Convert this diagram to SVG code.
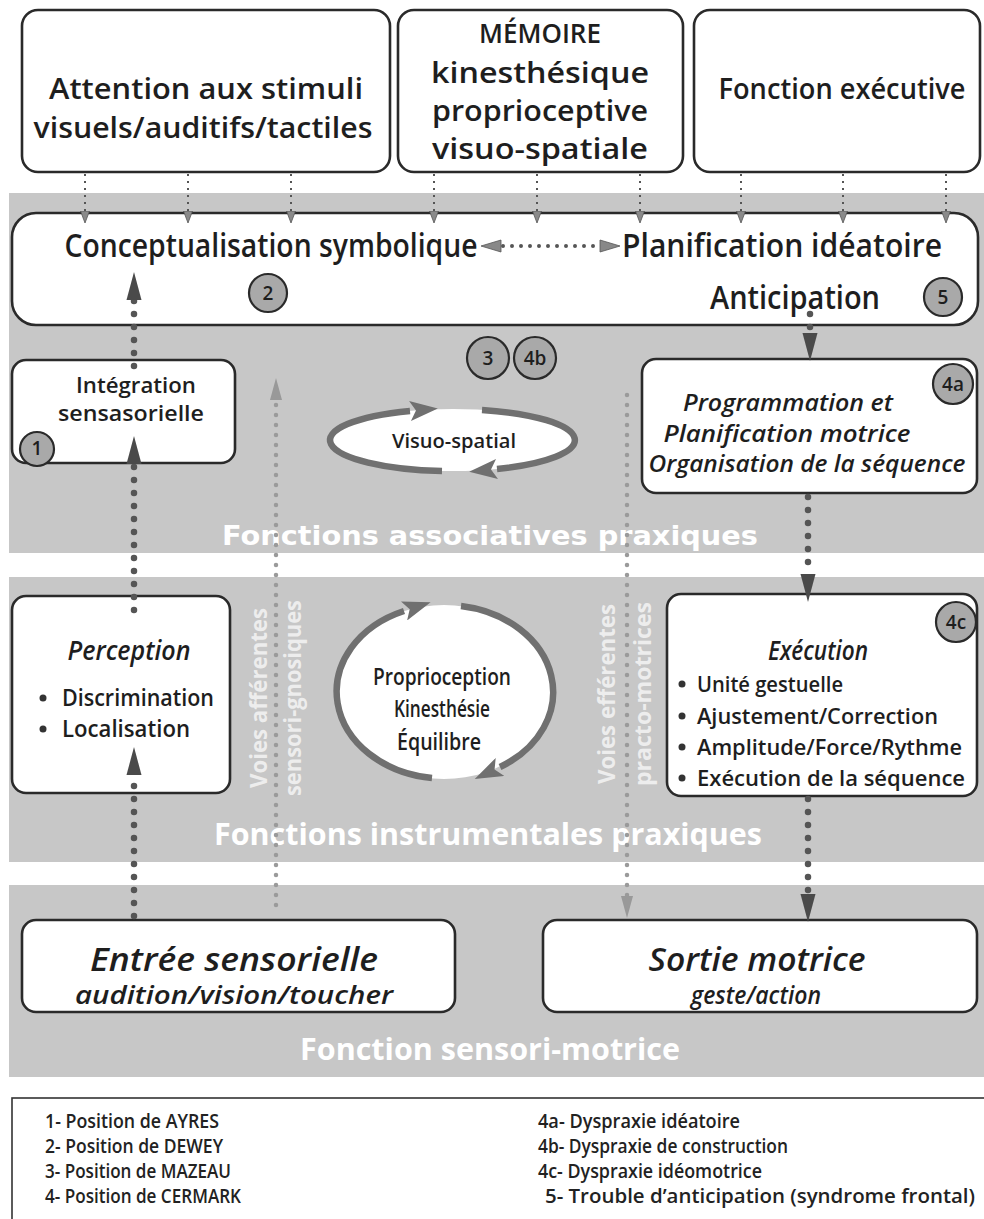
<svg xmlns="http://www.w3.org/2000/svg" width="984" height="1219" viewBox="0 0 984 1219">
<style>
.t{font-family:"Open Sans","Liberation Sans",sans-serif;font-weight:600;fill:#1e1e1e;}
.i{font-style:italic;}
.box{fill:#fff;stroke:#2a2a2a;stroke-width:2.6;}
.band{fill:#c7c7c7;}
.bl{font-family:"Open Sans","Liberation Sans",sans-serif;font-weight:700;fill:#fff;}
.bw{font-family:"DejaVu Sans","Verdana",sans-serif;font-weight:700;fill:#fff;}
.vt{font-family:"Open Sans","Liberation Sans",sans-serif;font-weight:700;fill:#fff;fill-opacity:0.7;font-size:24px;}
.num{fill:#a9a9a9;stroke:#2a2a2a;stroke-width:2.2;}
.nt{font-family:"Open Sans","Liberation Sans",sans-serif;font-weight:600;fill:#1e1e1e;font-size:19px;text-anchor:middle;}
.dk{fill:none;stroke:#555;stroke-width:6.5;stroke-linecap:round;stroke-dasharray:0 13;}
.lg{fill:none;stroke:#9a9a9a;stroke-width:4.5;stroke-linecap:round;stroke-dasharray:0 10;}
.sm{fill:none;stroke:#555;stroke-width:2;stroke-dasharray:2 5;}
.loop{fill:none;stroke:#707070;stroke-width:6.5;}
.leg{font-family:"Open Sans","Liberation Sans",sans-serif;font-weight:600;fill:#222;font-size:19px;}
</style>
<defs>
<marker id="ad" viewBox="0 -8 28 16" refX="0" refY="0" markerWidth="28" markerHeight="16" markerUnits="userSpaceOnUse" orient="auto"><path d="M0,-7.5 L28,0 L0,7.5 z" fill="#4a4a4a"/></marker>
<marker id="ag" viewBox="0 -7 24 14" refX="0" refY="0" markerWidth="24" markerHeight="14" markerUnits="userSpaceOnUse" orient="auto"><path d="M0,-6 L22,0 L0,6 z" fill="#999"/></marker>
<marker id="as" viewBox="0 -5 13 10" refX="0" refY="0" markerWidth="13" markerHeight="10" markerUnits="userSpaceOnUse" orient="auto"><path d="M0,-4.5 L12,0 L0,4.5 z" fill="#8a8a8a" stroke="#555" stroke-width="0.8"/></marker>
<marker id="al" viewBox="0 -10 28 20" refX="0" refY="0" markerWidth="28" markerHeight="20" markerUnits="userSpaceOnUse" orient="auto"><path d="M0,-10 L28,0 L0,10 L6,0 z" fill="#707070"/></marker>
</defs>
<rect width="984" height="1219" fill="#fff"/>
<g id="bands">
<rect class="band" x="9" y="193" width="975" height="360"/>
<rect class="band" x="9" y="577" width="975" height="285"/>
<rect class="band" x="9" y="885" width="975" height="192"/>
<text class="bw" x="490" y="545" font-size="26" text-anchor="middle" textLength="536" lengthAdjust="spacingAndGlyphs">Fonctions associatives praxiques</text>
<text class="bl" x="488" y="845" font-size="31" text-anchor="middle" textLength="548" lengthAdjust="spacingAndGlyphs">Fonctions instrumentales praxiques</text>
<text class="bl" x="490" y="1060" font-size="30" text-anchor="middle" textLength="380" lengthAdjust="spacingAndGlyphs">Fonction sensori-motrice</text>
<text class="vt" transform="translate(267,698) rotate(-90)" text-anchor="middle" textLength="180" lengthAdjust="spacingAndGlyphs">Voies afférentes</text>
<text class="vt" transform="translate(301,698) rotate(-90)" text-anchor="middle" textLength="196" lengthAdjust="spacingAndGlyphs">sensori-gnosiques</text>
<text class="vt" transform="translate(615,694) rotate(-90)" text-anchor="middle" textLength="180" lengthAdjust="spacingAndGlyphs">Voies efférentes</text>
<text class="vt" transform="translate(651,694) rotate(-90)" text-anchor="middle" textLength="184" lengthAdjust="spacingAndGlyphs">practo-motrices</text>
</g>
<g id="n-attention">
<rect class="box" x="22" y="10" width="368" height="162" rx="16"/>
<text class="t" x="206" y="99" font-size="29" text-anchor="middle" textLength="314" lengthAdjust="spacingAndGlyphs">Attention aux stimuli</text>
<text class="t" x="203" y="138" font-size="29" text-anchor="middle" textLength="339" lengthAdjust="spacingAndGlyphs">visuels/auditifs/tactiles</text>
</g>
<g id="n-memoire">
<rect class="box" x="398" y="10" width="285" height="162" rx="16"/>
<text class="t" x="540" y="43" font-size="27" text-anchor="middle" textLength="122" lengthAdjust="spacingAndGlyphs">MÉMOIRE</text>
<text class="t" x="540" y="83" font-size="29" text-anchor="middle" textLength="218" lengthAdjust="spacingAndGlyphs">kinesthésique</text>
<text class="t" x="540" y="121" font-size="29" text-anchor="middle" textLength="216" lengthAdjust="spacingAndGlyphs">proprioceptive</text>
<text class="t" x="540" y="159" font-size="29" text-anchor="middle" textLength="216" lengthAdjust="spacingAndGlyphs">visuo-spatiale</text>
</g>
<g id="n-executive">
<rect class="box" x="694" y="10" width="286" height="162" rx="16"/>
<text class="t" x="842" y="99" font-size="29" text-anchor="middle" textLength="247" lengthAdjust="spacingAndGlyphs">Fonction exécutive</text>
</g>
<g id="n-concept">
<rect class="box" x="12" y="213" width="966" height="112" rx="24"/>
<text class="t" x="271" y="257" font-size="32" text-anchor="middle" textLength="413" lengthAdjust="spacingAndGlyphs">Conceptualisation symbolique</text>
<text class="t" x="782" y="257" font-size="32" text-anchor="middle" textLength="320" lengthAdjust="spacingAndGlyphs">Planification idéatoire</text>
<text class="t" x="795" y="309" font-size="32" text-anchor="middle" textLength="170" lengthAdjust="spacingAndGlyphs">Anticipation</text>
<circle class="num" cx="268" cy="293" r="19"/><text class="nt" x="268" y="300">2</text>
<circle class="num" cx="943" cy="297" r="19"/><text class="nt" x="943" y="304">5</text>
</g>
<g id="n-positions">
<circle class="num" cx="488" cy="358" r="21"/><text class="nt" x="488" y="365">3</text>
<circle class="num" cx="535" cy="358" r="21"/><text class="nt" x="535" y="365">4b</text>
</g>
<g id="n-integration">
<rect class="box" x="12" y="360" width="223" height="103" rx="14"/>
<text class="t" x="136" y="393" font-size="22" text-anchor="middle" textLength="120" lengthAdjust="spacingAndGlyphs">Intégration</text>
<text class="t" x="131" y="421" font-size="22" text-anchor="middle" textLength="146" lengthAdjust="spacingAndGlyphs">sensasorielle</text>
<circle class="num" cx="37" cy="449" r="17"/><text class="nt" x="37" y="455" font-size="16">1</text>
</g>
<g id="n-visuo">
<ellipse cx="453" cy="440" rx="122" ry="31" fill="#fff"/>
<path class="loop" d="M442,471 A122,31 0 0 1 410,411" marker-end="url(#al)"/>
<path class="loop" d="M482,410 A122,31 0 0 1 497,469" marker-end="url(#al)"/>
<text class="t" x="454" y="448" font-size="20" text-anchor="middle" textLength="124" lengthAdjust="spacingAndGlyphs">Visuo-spatial</text>
</g>
<g id="n-programmation">
<rect class="box" x="642" y="359" width="335" height="134" rx="14"/>
<text class="t i" x="788" y="411" font-size="24" text-anchor="middle" textLength="210" lengthAdjust="spacingAndGlyphs">Programmation et</text>
<text class="t i" x="787" y="442" font-size="24" text-anchor="middle" textLength="247" lengthAdjust="spacingAndGlyphs">Planification motrice</text>
<text class="t i" x="807" y="472" font-size="24" text-anchor="middle" textLength="317" lengthAdjust="spacingAndGlyphs">Organisation de la séquence</text>
<circle class="num" cx="953" cy="384" r="20"/><text class="nt" x="953" y="391">4a</text>
</g>
<g id="n-perception">
<rect class="box" x="12" y="596" width="218" height="197" rx="14"/>
<text class="t i" x="129" y="660" font-size="27" text-anchor="middle" textLength="123" lengthAdjust="spacingAndGlyphs">Perception</text>
<circle cx="43" cy="698" r="3.5" fill="#333"/>
<text class="t" x="62" y="706" font-size="23" textLength="152" lengthAdjust="spacingAndGlyphs">Discrimination</text>
<circle cx="43" cy="729" r="3.5" fill="#333"/>
<text class="t" x="62" y="737" font-size="23" textLength="128" lengthAdjust="spacingAndGlyphs">Localisation</text>
</g>
<g id="n-proprio">
<ellipse cx="444" cy="692" rx="108" ry="87" fill="#fff"/>
<path class="loop" d="M432,778 A108,87 0 0 1 404,611" marker-end="url(#al)"/>
<path class="loop" d="M461,606 A108,87 0 0 1 500,767" marker-end="url(#al)"/>
<text class="t" x="442" y="685" font-size="23" text-anchor="middle" textLength="138" lengthAdjust="spacingAndGlyphs">Proprioception</text>
<text class="t" x="442" y="717" font-size="23" text-anchor="middle" textLength="96" lengthAdjust="spacingAndGlyphs">Kinesthésie</text>
<text class="t" x="439" y="750" font-size="23" text-anchor="middle" textLength="84" lengthAdjust="spacingAndGlyphs">Équilibre</text>
</g>
<g id="n-execution">
<rect class="box" x="667" y="594" width="310" height="202" rx="14"/>
<text class="t i" x="818" y="660" font-size="27" text-anchor="middle" textLength="100" lengthAdjust="spacingAndGlyphs">Exécution</text>
<circle class="num" cx="956" cy="622" r="20"/><text class="nt" x="956" y="629">4c</text>
<circle cx="682" cy="684" r="3.5" fill="#333"/>
<text class="t" x="697" y="692" font-size="22" textLength="146" lengthAdjust="spacingAndGlyphs">Unité gestuelle</text>
<circle cx="682" cy="716" r="3.5" fill="#333"/>
<text class="t" x="697" y="724" font-size="22" textLength="241" lengthAdjust="spacingAndGlyphs">Ajustement/Correction</text>
<circle cx="682" cy="747" r="3.5" fill="#333"/>
<text class="t" x="697" y="755" font-size="22" textLength="265" lengthAdjust="spacingAndGlyphs">Amplitude/Force/Rythme</text>
<circle cx="682" cy="778" r="3.5" fill="#333"/>
<text class="t" x="697" y="786" font-size="22" textLength="268" lengthAdjust="spacingAndGlyphs">Exécution de la séquence</text>
</g>
<g id="n-entree">
<rect class="box" x="22" y="920" width="433" height="92" rx="14"/>
<text class="t i" x="234" y="971" font-size="32" text-anchor="middle" textLength="288" lengthAdjust="spacingAndGlyphs">Entrée sensorielle</text>
<text class="t i" x="234" y="1004" font-size="25" text-anchor="middle" textLength="318" lengthAdjust="spacingAndGlyphs">audition/vision/toucher</text>
</g>
<g id="n-sortie">
<rect class="box" x="543" y="920" width="434" height="92" rx="14"/>
<text class="t i" x="757" y="971" font-size="32" text-anchor="middle" textLength="217" lengthAdjust="spacingAndGlyphs">Sortie motrice</text>
<text class="t i" x="756" y="1004" font-size="25" text-anchor="middle" textLength="130" lengthAdjust="spacingAndGlyphs">geste/action</text>
</g>
<g id="connectors">
<path class="sm" d="M85,174 V211" marker-end="url(#as)"/>
<path class="sm" d="M188,174 V211" marker-end="url(#as)"/>
<path class="sm" d="M291,174 V211" marker-end="url(#as)"/>
<path class="sm" d="M434,174 V211" marker-end="url(#as)"/>
<path class="sm" d="M537,174 V211" marker-end="url(#as)"/>
<path class="sm" d="M640,174 V211" marker-end="url(#as)"/>
<path class="sm" d="M741,174 V211" marker-end="url(#as)"/>
<path class="sm" d="M843,174 V211" marker-end="url(#as)"/>
<path class="sm" d="M946,174 V211" marker-end="url(#as)"/>
<path d="M503,246 H597" fill="none" stroke="#555" stroke-width="4" stroke-linecap="round" stroke-dasharray="0 9"/>
<path d="M481,246 L501,240 L501,252 z" fill="#888" stroke="#555" stroke-width="0.8"/>
<path d="M620,246 L600,240 L600,252 z" fill="#888" stroke="#555" stroke-width="0.8"/>
<path class="lg" d="M276,905 V400" marker-end="url(#ag)"/>
<path class="lg" d="M627,395 V896" marker-end="url(#ag)"/>
<path class="dk" d="M134,366 V300" marker-end="url(#ad)"/>
<path class="dk" d="M134,610 V464" marker-end="url(#ad)"/>
<path class="dk" d="M134,916 V775" marker-end="url(#ad)"/>
<path class="dk" d="M810,314 V333" marker-end="url(#ad)"/>
<path class="dk" d="M808,497 V574" marker-end="url(#ad)"/>
<path class="dk" d="M808,799 V894" marker-end="url(#ad)"/>
</g>
<g id="legend">
<rect x="12" y="1098" width="980" height="130" fill="#fff" stroke="#333" stroke-width="1.6"/>
<text class="leg" x="45" y="1128" textLength="174" lengthAdjust="spacingAndGlyphs">1- Position de AYRES</text>
<text class="leg" x="45" y="1153" textLength="178" lengthAdjust="spacingAndGlyphs">2- Position de DEWEY</text>
<text class="leg" x="45" y="1178" textLength="186" lengthAdjust="spacingAndGlyphs">3- Position de MAZEAU</text>
<text class="leg" x="45" y="1203" textLength="196" lengthAdjust="spacingAndGlyphs">4- Position de CERMARK</text>
<text class="leg" x="538" y="1128" textLength="202" lengthAdjust="spacingAndGlyphs">4a- Dyspraxie idéatoire</text>
<text class="leg" x="538" y="1153" textLength="250" lengthAdjust="spacingAndGlyphs">4b- Dyspraxie de construction</text>
<text class="leg" x="538" y="1178" textLength="224" lengthAdjust="spacingAndGlyphs">4c- Dyspraxie idéomotrice</text>
<text class="leg" x="545" y="1203" textLength="430" lengthAdjust="spacingAndGlyphs">5- Trouble d’anticipation (syndrome frontal)</text>
</g>
</svg>
